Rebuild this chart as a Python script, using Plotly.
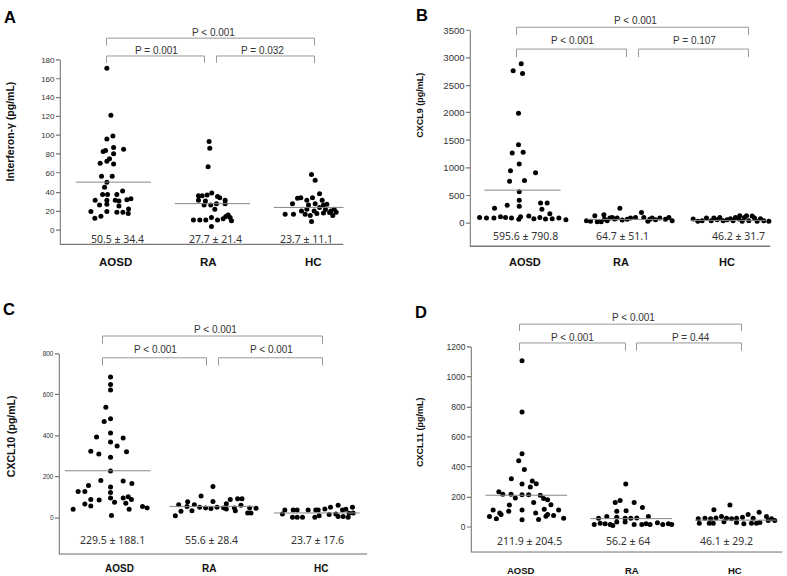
import math
import plotly.graph_objects as go

W, H = 787, 576
groups = ["AOSD", "RA", "HC"]

# ---------------- Panel A: Interferon-gamma ----------------
ifn_aosd_x = [0.934, 0.975, 0.995, 0.934, 1.002, 0.897, 0.921, 1.103, 1.002, 0.961, 0.934, 0.867, 1.002,
              0.880, 0.988, 0.934, 0.911, 0.891, 0.941, 1.035, 1.093, 0.816, 0.934, 1.019, 1.056, 1.136,
              1.177, 0.860, 0.934, 1.056, 1.153, 0.773, 0.934, 1.035, 1.096, 1.150, 0.813, 0.874]
ifn_aosd_y = [171.2, 121.5, 99.4, 96.3, 87.2, 83.0, 84.0, 85.4, 80.5, 75.3, 72.5, 70.4, 69.7,
              56.7, 56.7, 50.4, 45.2, 37.5, 37.5, 37.5, 41.0, 31.2, 31.2, 31.2, 30.5, 31.9,
              32.9, 26.3, 27.0, 25.2, 22.1, 19.3, 19.3, 18.6, 18.6, 17.2, 12.3, 14.4]
ifn_ra_x = [1.966, 1.973, 1.956, 1.859, 1.896, 1.946, 1.993, 2.051, 1.859, 1.929, 2.074, 2.128, 1.916,
            1.983, 2.040, 2.128, 2.024, 1.808, 1.872, 1.933, 1.990, 2.051, 2.158, 2.178, 2.192, 1.990,
            2.108, 2.135]
ifn_ra_y = [93.5, 86.5, 66.9, 36.1, 36.1, 36.8, 38.9, 35.4, 31.2, 30.5, 34.0, 31.2, 26.3,
            26.3, 27.7, 27.7, 21.7, 10.5, 10.5, 10.5, 13.0, 10.5, 15.8, 13.0, 9.5, 3.5,
            11.6, 14.0]
ifn_hc_x = [3.000, 3.037, 2.808, 2.859, 2.892, 2.953, 3.010, 3.081, 2.970, 3.037, 3.108, 3.121, 3.155,
            2.899, 2.953, 3.027, 3.081, 3.141, 3.195, 3.229, 3.182, 2.734, 2.818, 2.936, 2.987, 3.054,
            3.121, 3.249, 3.215, 3.000]
ifn_hc_y = [58.5, 52.5, 27.7, 33.3, 34.0, 31.2, 34.0, 38.2, 26.3, 27.7, 31.2, 26.3, 27.0,
            20.0, 21.7, 20.0, 23.5, 21.4, 20.0, 21.7, 18.2, 16.5, 16.5, 16.5, 15.1, 17.2,
            17.9, 18.6, 15.1, 8.8]
ifn_mean = [50.5, 27.7, 23.7]
ifn_sd = [34.4, 21.4, 11.1]
ifn_p = ["P < 0.001", "P = 0.001", "P = 0.032"]   # AOSD-HC, AOSD-RA, RA-HC
ifn_ticks = [0, 20, 40, 60, 80, 100, 120, 140, 160, 180]

# ---------------- Panel B: CXCL9 ----------------
cxcl9_aosd_x = [0.987, 0.909, 1.000, 0.961, 0.961, 0.900, 1.006, 0.968, 0.883, 1.126, 0.874, 1.019,
                0.968, 0.968, 0.968, 0.728, 0.851, 1.175, 1.239, 1.188, 1.265, 0.583, 0.650, 0.722,
                0.786, 0.835, 0.893, 0.964, 0.981, 1.061, 1.110, 1.168, 1.223, 1.288, 1.353, 1.421]
cxcl9_aosd_y = [2893, 2763, 2716, 1994, 1420, 1272, 1284, 1071, 947, 911, 757, 769,
                568, 414, 302, 266, 320, 361, 361, 249, 166, 101, 89, 89,
                112, 101, 89, 65, 112, 124, 77, 101, 71, 77, 89, 59]
cxcl9_ra_x = [1.621, 1.660, 1.702, 1.725, 1.764, 1.790, 1.796, 1.822, 1.848, 1.871, 1.893, 1.919,
              1.945, 1.968, 2.016, 2.049, 2.097, 2.155, 2.178, 2.217, 2.236, 2.259, 2.291, 2.333,
              2.388, 2.421, 2.453]
cxcl9_ra_y = [41, 30, 130, 24, 24, 148, 71, 41, 89, 101, 71, 89,
              266, 53, 65, 89, 101, 189, 101, 30, 65, 89, 59, 89,
              65, 101, 41]
cxcl9_hc_x = [2.657, 2.702, 2.744, 2.786, 2.832, 2.858, 2.890, 2.916, 2.948, 2.987, 3.019, 3.045,
              3.068, 3.100, 3.110, 3.133, 3.155, 3.175, 3.197, 3.230, 3.252, 3.278, 3.311, 3.343, 3.392]
cxcl9_hc_y = [71, 30, 41, 89, 41, 89, 59, 101, 41, 59, 77, 41,
              101, 71, 130, 30, 101, 130, 41, 124, 89, 30, 77, 41, 30]
cxcl9_mean = [595.6, 64.7, 46.2]
cxcl9_sd = [790.8, 51.1, 31.7]
cxcl9_p = ["P < 0.001", "P < 0.001", "P = 0.107"]
cxcl9_ticks = [0, 500, 1000, 1500, 2000, 2500, 3000, 3500]

# ---------------- Panel C: CXCL10 ----------------
cxcl10_aosd_x = [1.026, 1.026, 1.026, 0.981, 0.965, 1.026, 1.026, 0.892, 1.147, 1.026, 1.089, 0.837,
                 0.914, 1.179, 1.026, 1.026, 0.933, 1.147, 1.230, 1.026, 0.815, 0.716, 0.780, 1.026,
                 0.837, 0.917, 1.026, 1.147, 1.195, 1.226, 0.780, 0.837, 1.064, 1.172, 0.668, 1.204,
                 1.332, 1.376, 1.035]
cxcl10_aosd_y = [687, 650, 623, 539, 470, 483, 414, 394, 390, 370, 351, 325,
                 311, 322, 295, 229, 182, 180, 167, 150, 158, 129, 129, 124,
                 90, 87, 97, 97, 103, 90, 68, 58, 76, 71, 42, 42,
                 55, 48, 11]
cxcl10_ra_x = [2.006, 1.892, 1.764, 2.006, 2.172, 2.242, 2.284, 1.678, 1.828, 2.134, 2.274, 1.758,
               1.879, 1.936, 1.987, 2.045, 2.108, 2.134, 2.211, 2.357, 2.418, 1.700, 1.805, 1.646,
               2.220, 2.338, 2.370]
cxcl10_ra_y = [153, 106, 79, 80, 89, 93, 93, 64, 64, 69, 61, 55,
               52, 48, 45, 52, 48, 43, 48, 48, 47, 32, 35, 10,
               34, 24, 24]
cxcl10_hc_x = [2.694, 2.774, 2.812, 2.917, 2.990, 3.013, 3.077, 3.131, 3.204, 3.246, 3.278, 3.341,
               2.671, 3.118, 3.182, 3.309, 3.348, 2.767, 2.812, 2.863, 2.981, 3.022, 3.204, 3.252, 3.300]
cxcl10_hc_y = [38.6, 38.6, 38.6, 38.6, 38.6, 38.6, 43.5, 51.5, 61, 38.6, 42, 51.5,
               19, 16, 19, 22.5, 24, 3.2, 3.2, 3.2, 3.2, 9.7, 6.4, 6.4, 3.2]
cxcl10_mean = [229.5, 55.6, 23.7]
cxcl10_sd = [188.1, 28.4, 17.6]
cxcl10_p = ["P < 0.001", "P < 0.001", "P < 0.001"]
cxcl10_ticks = [0, 200, 400, 600, 800]

# ---------------- Panel D: CXCL11 ----------------
cxcl11_aosd_x = [0.959, 0.959, 0.959, 0.927, 0.981, 0.857, 0.959, 1.057, 1.095, 1.038, 0.737, 0.775,
                 0.854, 0.895, 0.959, 1.022, 1.133, 1.165, 1.203, 1.070, 1.235, 0.683, 0.746, 0.759,
                 0.838, 0.832, 0.959, 1.171, 1.308, 0.648, 0.714, 0.959, 1.089, 1.117, 1.187, 1.260,
                 1.356, 1.203]
cxcl11_aosd_y = [1108, 766, 488, 442, 383, 322, 287, 307, 289, 267, 236, 219,
                 219, 193, 215, 215, 212, 190, 182, 164, 149, 114, 94, 83,
                 147, 105, 114, 118, 114, 70, 55, 48, 94, 50, 72, 77,
                 59, 83]
cxcl11_ra_x = [1.949, 1.848, 1.895, 2.029, 2.108, 1.863, 1.952, 1.689, 1.768, 1.863, 1.943, 1.997,
               2.054, 2.165, 1.648, 1.705, 1.752, 1.800, 1.825, 1.863, 1.943, 2.029, 2.102, 2.143,
               2.181, 2.251, 2.302, 2.356, 2.387]
cxcl11_ra_y = [287, 164, 177, 164, 131, 105, 109, 59, 70, 66, 59, 59,
               61, 70, 17.5, 26, 22, 17.5, 11, 33, 33, 17.5, 17.5, 22,
               17.5, 28, 17.5, 22, 17.5]
cxcl11_hc_x = [2.943, 2.790, 2.641, 2.705, 2.759, 2.810, 2.863, 2.911, 2.959, 3.006, 3.063, 3.117,
               3.165, 3.222, 3.292, 3.340, 2.651, 2.746, 2.784, 2.886, 3.006, 3.076, 3.149, 3.197,
               3.229, 3.308, 3.371]
cxcl11_hc_y = [147, 116, 55, 59, 55, 61, 70, 59, 55, 59, 66, 83,
               59, 99, 70, 55, 26, 26, 26, 35, 31, 22, 26, 26,
               31, 44, 44]
cxcl11_mean = [211.9, 56.2, 46.1]
cxcl11_sd = [204.5, 64, 29.2]
cxcl11_p = ["P < 0.001", "P < 0.001", "P = 0.44"]
cxcl11_ticks = [0, 200, 400, 600, 800, 1000, 1200]


def px(x):
    return x / W


def py(y):
    return 1 - y / H


def crisp(v):
    # centre a 1px line on a pixel
    return math.floor(v) + 0.5


# layout geometry per panel, in figure pixels
panels = [
    dict(letter="A", title="Interferon-γ (pg/mL)",
         xs=[ifn_aosd_x, ifn_ra_x, ifn_hc_x], ys=[ifn_aosd_y, ifn_ra_y, ifn_hc_y],
         mean=ifn_mean, sd=ifn_sd, p=ifn_p, ticks=ifn_ticks,
         box=(59.5, 343.5, 54.5, 241.5), xr=(0.456, 3.323), yr=(-16.1, 180),
         tick_size=8, title_size=10.5, title_xy=(10, 126.7), letter_xy=(10, 11),
         cat_x=[115, 209, 313], cat_y=259, cat_size=11.5,
         stat_x=[117, 215, 306], stat_y=235, half=0.38,
         top=(32.7, 40, 106, 314), low=(50.7, 57.3, 106, 204.7, 216, 314),
         p_xy=[(213, 27), (156.7, 45), (262.5, 45)]),
    dict(letter="B", title="CXCL9 (pg/mL)",
         xs=[cxcl9_aosd_x, cxcl9_ra_x, cxcl9_hc_x], ys=[cxcl9_aosd_y, cxcl9_ra_y, cxcl9_hc_y],
         mean=cxcl9_mean, sd=cxcl9_sd, p=cxcl9_p, ticks=cxcl9_ticks,
         box=(469.5, 770.5, 24.5, 243.5), xr=(0.485, 3.408), yr=(-436, 3500),
         tick_size=9.5, title_size=9, title_xy=(420, 100.8), letter_xy=(421.5, 9.2),
         cat_x=[525, 621, 726.7], cat_y=259, cat_size=11,
         stat_x=[525, 622.7, 738.7], stat_y=232.3, half=0.37,
         top=(21.7, 29.3, 516.7, 748.3), low=(43.3, 51.7, 516.7, 626.7, 638.3, 748.3),
         p_xy=[(635, 15), (572.7, 35), (694, 35)]),
    dict(letter="C", title="CXCL10 (pg/mL)",
         xs=[cxcl10_aosd_x, cxcl10_ra_x, cxcl10_hc_x], ys=[cxcl10_aosd_y, cxcl10_ra_y, cxcl10_hc_y],
         mean=cxcl10_mean, sd=cxcl10_sd, p=cxcl10_p, ticks=cxcl10_ticks,
         box=(58.5, 367.5, 351.5, 554.5), xr=(0.528, 3.485), yr=(-180, 800),
         tick_size=6.5, title_size=10.5, title_xy=(11.7, 435), letter_xy=(9, 306.5),
         cat_x=[119.3, 209.3, 321], cat_y=568.3, cat_size=10,
         stat_x=[112.5, 212, 317.5], stat_y=539.3, half=0.41,
         top=(333.3, 341.7, 102.7, 322.3), low=(355, 363.3, 102.7, 206.7, 218.3, 322.3),
         p_xy=[(215.3, 327.3), (155.3, 347.3), (271.7, 347.3)]),
    dict(letter="D", title="CXCL11 (pg/mL)",
         xs=[cxcl11_aosd_x, cxcl11_ra_x, cxcl11_hc_x], ys=[cxcl11_aosd_y, cxcl11_ra_y, cxcl11_hc_y],
         mean=cxcl11_mean, sd=cxcl11_sd, p=cxcl11_p, ticks=cxcl11_ticks,
         box=(470.5, 782.5, 344.5, 552.5), xr=(0.467, 3.445), yr=(-171, 1200),
         tick_size=8.5, title_size=9, title_xy=(420.7, 430.8), letter_xy=(421, 309),
         cat_x=[521, 631.7, 735], cat_y=570, cat_size=9.5,
         stat_x=[529.2, 627.5, 726.7], stat_y=540.7, half=0.39,
         top=(321.7, 328.3, 519.3, 741.7), low=(340.7, 348.3, 519.3, 625.3, 636.7, 741.7),
         p_xy=[(633.3, 315), (572.7, 335), (691, 335)]),
]

AXIS_GRAY = "#777777"
TEXT = "#333333"
ARIAL = "Liberation Sans, Arial, sans-serif"


def label(x, y, text, font, **kw):
    return dict(x=px(x), y=py(y), xref="paper", yref="paper", text=text,
                xanchor="center", yanchor="middle", showarrow=False, font=font, **kw)


fig = go.Figure()
annotations = []
shapes = []
layout = {}

for i, p in enumerate(panels, start=1):
    xa = "x" if i == 1 else f"x{i}"
    ya = "y" if i == 1 else f"y{i}"
    l, r, t, b = p["box"]
    x0v, x1v = p["xr"]
    y0v, y1v = p["yr"]

    # axis frame drawn as a line trace sitting just inside the plot edges
    ex = 0.7 * (x1v - x0v) / (r - l)
    ey = 0.7 * (y1v - y0v) / (b - t)
    fig.add_trace(go.Scatter(
        x=[x0v + ex, x0v + ex, x1v], y=[y1v, y0v + ey, y0v + ey], mode="lines",
        xaxis=xa, yaxis=ya, line=dict(color=AXIS_GRAY, width=1.3),
        showlegend=False, hoverinfo="skip"))

    for k in range(3):
        fig.add_trace(go.Scatter(
            x=p["xs"][k], y=p["ys"][k], mode="markers", xaxis=xa, yaxis=ya,
            marker=dict(size=5, color="black"), cliponaxis=False,
            showlegend=False, hoverinfo="y"))
        c = k + 1
        fig.add_trace(go.Scatter(
            x=[c - p["half"], c + p["half"]], y=[p["mean"][k]] * 2, mode="lines",
            xaxis=xa, yaxis=ya, line=dict(color="#888888", width=1),
            cliponaxis=False, showlegend=False, hoverinfo="skip"))

        annotations.append(label(
            p["stat_x"][k], p["stat_y"], f"{p['mean'][k]:g} ± {p['sd'][k]:g}",
            dict(family="Noto Sans, sans-serif", size=10.5, color=TEXT)))
        annotations.append(label(
            p["cat_x"][k], p["cat_y"], f"<b>{groups[k]}</b>",
            dict(family=ARIAL, size=p["cat_size"], color="#111111")))

    layout["xaxis" if i == 1 else f"xaxis{i}"] = dict(
        domain=[px(l), px(r)], range=list(p["xr"]), anchor=ya,
        showline=False, showticklabels=False, ticks="", showgrid=False, zeroline=False)
    layout["yaxis" if i == 1 else f"yaxis{i}"] = dict(
        domain=[py(b), py(t)], range=list(p["yr"]), anchor=xa,
        showline=False, tickvals=p["ticks"], ticks="", ticklabelstandoff=4,
        tickfont=dict(family=ARIAL, size=p["tick_size"], color=TEXT),
        showgrid=False, zeroline=False)

    # short outward ticks at the tick values
    tick_path = ""
    for v in p["ticks"]:
        ty_px = crisp(b - (v - y0v) / (y1v - y0v) * (b - t))
        tick_path += f" M {px(l - 3.5)},{py(ty_px)} L {px(l + 0.5)},{py(ty_px)}"
    shapes.append(dict(type="path", xref="paper", yref="paper", path=tick_path.strip(),
                       line=dict(color=AXIS_GRAY, width=1.2)))

    # y title and panel letter
    annotations.append(label(
        p["title_xy"][0], p["title_xy"][1], f"<b>{p['title']}</b>",
        dict(family=ARIAL, size=p["title_size"], color="#111111"), textangle=-90))
    annotations.append(label(
        p["letter_xy"][0], p["letter_xy"][1], f"<b>{p['letter']}</b>",
        dict(family=ARIAL, size=16.5, color="black")))

    # significance brackets
    ty, tdrop, tx0, tx1 = p["top"]
    ly, ldrop, a0, a1, b0, b1 = p["low"]
    for (yy, yd, x0, x1) in [(ty, tdrop, tx0, tx1), (ly, ldrop, a0, a1), (ly, ldrop, b0, b1)]:
        yy, x0, x1 = crisp(yy), crisp(x0), crisp(x1)
        shapes.append(dict(
            type="path", xref="paper", yref="paper",
            path=(f"M {px(x0)},{py(yd)} L {px(x0)},{py(yy)} "
                  f"L {px(x1)},{py(yy)} L {px(x1)},{py(yd)}"),
            line=dict(color="#999999", width=1)))
    for (txt, (tx, tyy)) in zip(p["p"], p["p_xy"]):
        annotations.append(label(tx, tyy, txt, dict(family=ARIAL, size=10, color=TEXT)))

fig.update_layout(
    width=W, height=H, margin=dict(l=0, r=0, t=0, b=0),
    paper_bgcolor="white", plot_bgcolor="white",
    annotations=annotations, shapes=shapes, showlegend=False,
    **layout)

# page body margin would shift the figure; drop it
fig.write_html("out.html", config={"displayModeBar": False},
               post_script="document.body.style.margin = '0px';")
